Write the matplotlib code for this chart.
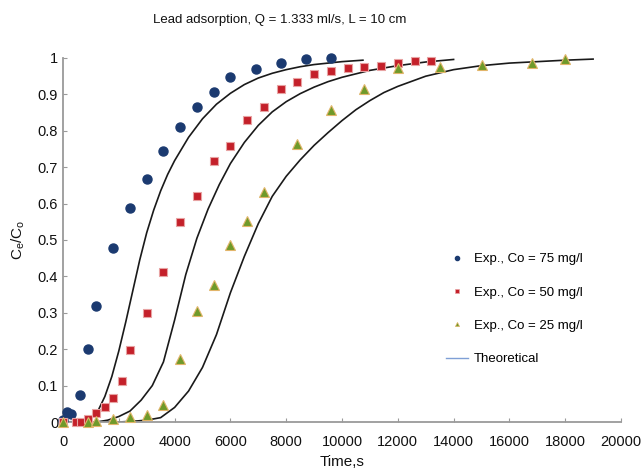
import matplotlib
matplotlib.use("Agg")
import matplotlib.pyplot as plt
from matplotlib.lines import Line2D

plt.rcParams['font.family'] = ['Liberation Sans', 'DejaVu Sans']

# experimental points, Co = 75 mg/l
t_75 = [0, 150, 300, 600, 900, 1200, 1800, 2400, 3000, 3600, 4200, 4800, 5400, 6000, 6900, 7800, 8700, 9600]
c_75 = [0.005, 0.027, 0.022, 0.074, 0.20, 0.319, 0.478, 0.588, 0.668, 0.744, 0.81, 0.865, 0.906, 0.948, 0.970, 0.986, 0.997, 1.0]

# experimental points, Co = 50 mg/l
t_50 = [0, 450, 650, 900, 1200, 1500, 1800, 2100, 2400, 3000, 3600, 4200, 4800, 5400, 6000, 6600, 7200,
        7800, 8400, 9000, 9600, 10200, 10800, 11400, 12000, 12600, 13200]
c_50 = [0, 0, 0, 0.007, 0.024, 0.042, 0.065, 0.112, 0.198, 0.30, 0.412, 0.549, 0.621, 0.716, 0.759, 0.83, 0.866,
        0.916, 0.933, 0.957, 0.963, 0.972, 0.976, 0.979, 0.986, 0.992, 0.992]

# experimental points, Co = 25 mg/l
t_25 = [0, 900, 1200, 1800, 2400, 3000, 3600, 4200, 4800, 5400, 6000, 6600, 7200, 8400, 9600, 10800, 12000,
        13500, 15000, 16800, 18000]
c_25 = [0, 0, 0.003, 0.008, 0.013, 0.018, 0.046, 0.172, 0.306, 0.376, 0.486, 0.551, 0.632, 0.763, 0.856, 0.916, 0.972,
        0.975, 0.98, 0.986, 0.997]

# theoretical curves
th75_t = [0, 800, 1000, 1250, 1500, 1750, 2000, 2250, 2500, 2750, 3000, 3250, 3500, 3750, 4000, 4500, 5000,
          5500, 6000, 6500, 7000, 7500, 8000, 8500, 9000, 9500, 10000, 10750]
th75_c = [0, 0.002, 0.008, 0.03, 0.07, 0.125, 0.195, 0.275, 0.36, 0.445, 0.52, 0.582, 0.635, 0.68, 0.718, 0.782,
          0.833, 0.873, 0.903, 0.927, 0.945, 0.958, 0.968, 0.976, 0.982, 0.986, 0.99, 0.994]

th50_t = [0, 1200, 1600, 2000, 2400, 2800, 3200, 3600, 4000, 4400, 4800, 5200, 5600, 6000, 6500, 7000, 7500,
          8000, 8500, 9000, 9500, 10000, 11000, 12000, 13000, 14000]
th50_c = [0, 0, 0.005, 0.015, 0.03, 0.06, 0.1, 0.165, 0.28, 0.405, 0.505, 0.585, 0.652, 0.71, 0.768, 0.815, 0.852,
          0.88, 0.902, 0.92, 0.935, 0.947, 0.966, 0.979, 0.989, 0.996]

th25_t = [0, 2000, 2500, 3000, 3500, 4000, 4500, 5000, 5500, 6000, 6500, 7000, 7500, 8000, 8500, 9000, 9500,
          10000, 10500, 11000, 11500, 12000, 13000, 14000, 15000, 16000, 17000, 18000, 19000]
th25_c = [0, 0, 0.002, 0.005, 0.012, 0.04, 0.085, 0.15, 0.24, 0.355, 0.455, 0.545, 0.62, 0.675, 0.72, 0.76, 0.795,
          0.828, 0.858, 0.883, 0.905, 0.922, 0.95, 0.968, 0.979, 0.986, 0.99, 0.994, 0.997]

labels = ["Exp., Co = 75 mg/l", "Exp., Co = 50 mg/l", "Exp., Co = 25 mg/l", "Theoretical"]

fig = plt.figure(figsize=(6.42, 4.72), dpi=100)
ax = fig.add_axes([63 / 642, 50 / 472, 558 / 642, 364 / 472])

for tt, cc in [(th75_t, th75_c), (th50_t, th50_c), (th25_t, th25_c)]:
    ax.plot(tt, cc, color='#1a1a1a', lw=1.2, zorder=2)

ax.plot(t_75, c_75, 'o', ms=6.5, color='#1b3a70', mec='#1b3a70', clip_on=False, zorder=3)
ax.plot(t_50, c_50, 's', ms=6, color='#c4202a', mec='#e8a3a3', mew=0.8, clip_on=False, zorder=3)
ax.plot(t_25, c_25, '^', ms=6.5, color='#6f9a2a', mec='#e2b56a', mew=0.8, clip_on=False, zorder=3)

ax.set_xlim(0, 20000)
ax.set_ylim(0, 1)
ax.set_xticks(range(0, 20001, 2000))
ax.set_yticks([i / 10 for i in range(11)])
ax.set_yticklabels(["0", "0.1", "0.2", "0.3", "0.4", "0.5", "0.6", "0.7", "0.8", "0.9", "1"])
for s in ['top', 'right']:
    ax.spines[s].set_visible(False)
for s in ['left', 'bottom']:
    ax.spines[s].set_color('#9a9a9a')
    ax.spines[s].set_linewidth(1.3)
ax.tick_params(direction='in', length=3, color='#9a9a9a', labelsize=10.5, labelcolor='#111111')
ax.tick_params(axis='x', pad=9)

ax.set_xlabel("Time,s", fontsize=11, color='#111111', labelpad=5)
ax.set_ylabel(r"C$_\mathregular{e}$/C$_\mathregular{o}$", fontsize=11, color='#111111', labelpad=8)

fig.text(280 / 642, 1 - 20 / 472, "Lead adsorption, Q = 1.333 ml/s, L = 10 cm",
         ha='center', va='center', fontsize=9.5, color='#111111')

handles = [
    Line2D([], [], ls='none', marker='o', ms=3, color='#1b3a70'),
    Line2D([], [], ls='none', marker='s', ms=3, color='#c4202a', mec='#e8a3a3', mew=0.5),
    Line2D([], [], ls='none', marker='^', ms=3, color='#6f9a2a', mec='#e2b56a', mew=0.5),
    Line2D([], [], color='#7f9fd6', lw=1.0),
]
ax.legend(handles, labels, loc='upper left', bbox_to_anchor=(0.665, 0.497), frameon=False,
          fontsize=9.5, handlelength=1.7, handletextpad=0.4, labelspacing=1.6)

fig.savefig("out.png", dpi=100)
